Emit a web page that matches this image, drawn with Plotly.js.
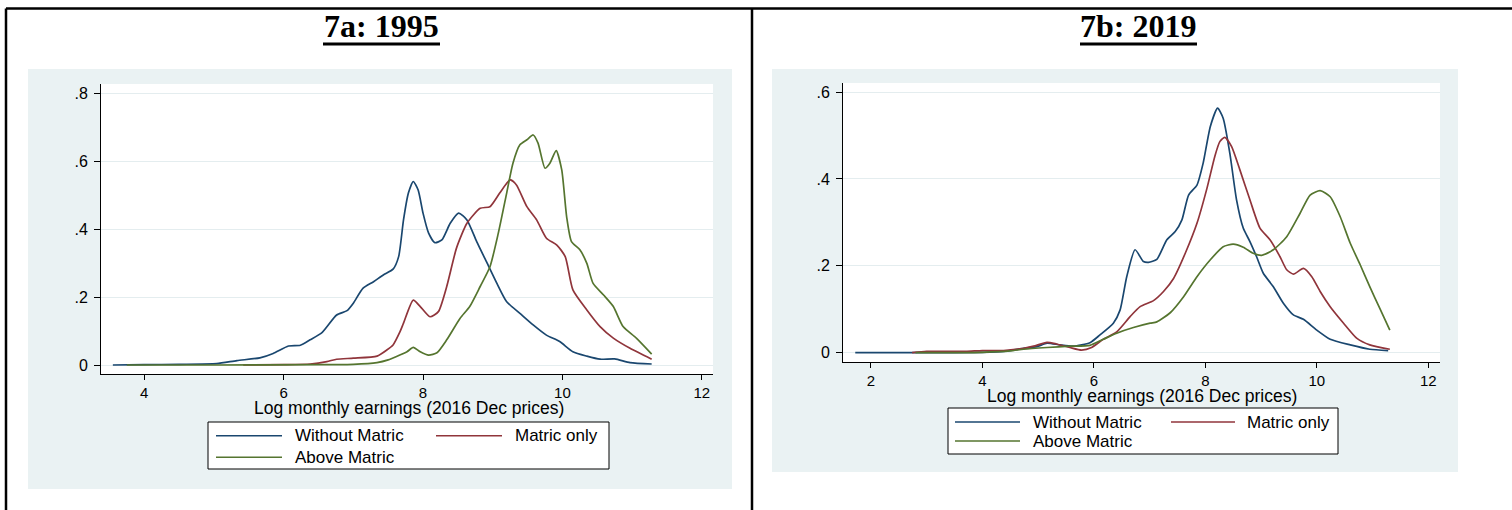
<!DOCTYPE html>
<html>
<head>
<meta charset="utf-8">
<script src="https://cdn.plot.ly/plotly-3.0.1.min.js"></script>
<style>
html,body{margin:0;padding:0;background:#ffffff;}
#chart{width:1512px;height:510px;}
</style>
</head>
<body>
<div id="chart"></div>
<script>
// ---------------- DATA ----------------
const seriesNames = ["Without Matric", "Matric only", "Above Matric"];
const panelTitles = ["7a: 1995", "7b: 2019"];
const xAxisTitle = "Log monthly earnings (2016 Dec prices)";

const xTicks1995 = [4, 6, 8, 10, 12];
const xTickText1995 = ["4", "6", "8", "10", "12"];
const yTicks1995 = [0, 0.2, 0.4, 0.6, 0.8];
const yTickText1995 = ["0", ".2", ".4", ".6", ".8"];

const xTicks2019 = [2, 4, 6, 8, 10, 12];
const xTickText2019 = ["2", "4", "6", "8", "10", "12"];
const yTicks2019 = [0, 0.2, 0.4, 0.6];
const yTickText2019 = ["0", ".2", ".4", ".6"];

// 1995 densities
const x1995Without = [3.55, 4.0, 4.5, 5.04, 5.33, 5.66, 5.85, 6.07, 6.24, 6.38, 6.55, 6.76, 6.91, 7.00, 7.14, 7.29, 7.43, 7.57, 7.65, 7.72, 7.79, 7.86, 7.93, 8.00, 8.08, 8.17, 8.27, 8.39, 8.51, 8.63, 8.77, 8.91, 9.06, 9.20, 9.39, 9.58, 9.77, 9.96, 10.15, 10.35, 10.54, 10.75, 10.97, 11.28];
const y1995Without = [0, 0.001, 0.002, 0.004, 0.013, 0.021, 0.034, 0.056, 0.058, 0.074, 0.095, 0.147, 0.160, 0.182, 0.226, 0.245, 0.265, 0.282, 0.319, 0.427, 0.506, 0.540, 0.515, 0.447, 0.388, 0.360, 0.368, 0.417, 0.447, 0.427, 0.363, 0.304, 0.240, 0.186, 0.152, 0.118, 0.088, 0.069, 0.039, 0.026, 0.017, 0.018, 0.007, 0.003];

const x1995Matric = [5.42, 6.0, 6.38, 6.62, 6.76, 7.00, 7.34, 7.48, 7.57, 7.67, 7.72, 7.86, 7.96, 8.10, 8.22, 8.34, 8.48, 8.63, 8.82, 8.96, 9.10, 9.25, 9.34, 9.49, 9.63, 9.77, 9.92, 10.04, 10.15, 10.35, 10.54, 10.73, 10.97, 11.28];
const y1995Matric = [0, 0.001, 0.003, 0.010, 0.017, 0.020, 0.026, 0.044, 0.059, 0.098, 0.123, 0.191, 0.172, 0.142, 0.157, 0.231, 0.344, 0.417, 0.461, 0.466, 0.506, 0.545, 0.530, 0.466, 0.427, 0.373, 0.353, 0.319, 0.221, 0.162, 0.113, 0.079, 0.049, 0.017];

const x1995Above = [3.75, 5.0, 6.5, 7.0, 7.34, 7.50, 7.62, 7.77, 7.86, 7.96, 8.08, 8.20, 8.34, 8.53, 8.67, 8.82, 8.96, 9.08, 9.20, 9.29, 9.39, 9.49, 9.58, 9.65, 9.75, 9.82, 9.91, 9.99, 10.06, 10.13, 10.25, 10.35, 10.44, 10.59, 10.73, 10.87, 11.06, 11.28];
const y1995Above = [0, 0, 0.001, 0.002, 0.007, 0.015, 0.025, 0.039, 0.052, 0.039, 0.029, 0.036, 0.074, 0.137, 0.172, 0.231, 0.289, 0.388, 0.506, 0.594, 0.648, 0.663, 0.677, 0.653, 0.579, 0.594, 0.631, 0.574, 0.437, 0.363, 0.339, 0.299, 0.240, 0.206, 0.172, 0.113, 0.079, 0.032];

// 2019 densities
const x2019Without = [1.72, 3.0, 4.0, 4.38, 4.74, 4.98, 5.16, 5.39, 5.63, 5.93, 6.11, 6.35, 6.47, 6.59, 6.74, 6.89, 6.98, 7.13, 7.31, 7.46, 7.58, 7.70, 7.85, 7.96, 8.09, 8.22, 8.32, 8.44, 8.56, 8.68, 8.80, 8.92, 9.04, 9.22, 9.40, 9.58, 9.76, 10.0, 10.24, 10.60, 10.95, 11.28];
const y2019Without = [0, 0, 0.001, 0.003, 0.010, 0.014, 0.022, 0.018, 0.015, 0.023, 0.041, 0.068, 0.098, 0.175, 0.237, 0.210, 0.208, 0.215, 0.260, 0.279, 0.306, 0.363, 0.386, 0.436, 0.521, 0.563, 0.540, 0.459, 0.352, 0.287, 0.256, 0.221, 0.183, 0.152, 0.114, 0.087, 0.077, 0.052, 0.031, 0.018, 0.008, 0.005];

const x2019Matric = [2.74, 3.0, 3.7, 4.0, 4.38, 4.74, 4.92, 5.16, 5.33, 5.57, 5.78, 5.96, 6.17, 6.41, 6.65, 6.83, 7.07, 7.25, 7.43, 7.64, 7.85, 8.03, 8.17, 8.26, 8.35, 8.47, 8.62, 8.80, 8.98, 9.16, 9.34, 9.46, 9.58, 9.76, 9.91, 10.06, 10.24, 10.48, 10.72, 10.95, 11.31];
const y2019Matric = [0, 0.003, 0.003, 0.005, 0.005, 0.010, 0.015, 0.024, 0.020, 0.012, 0.006, 0.012, 0.031, 0.048, 0.083, 0.106, 0.120, 0.141, 0.171, 0.229, 0.298, 0.379, 0.452, 0.486, 0.496, 0.475, 0.421, 0.352, 0.287, 0.260, 0.221, 0.191, 0.181, 0.194, 0.175, 0.141, 0.106, 0.068, 0.033, 0.018, 0.008];

const x2019Above = [2.8, 4.0, 4.5, 4.74, 5.16, 5.57, 5.93, 6.17, 6.41, 6.71, 7.01, 7.13, 7.37, 7.61, 7.85, 8.09, 8.32, 8.50, 8.68, 8.86, 9.01, 9.22, 9.46, 9.70, 9.88, 10.06, 10.24, 10.42, 10.60, 10.78, 10.95, 11.13, 11.31];
const y2019Above = [0, 0.001, 0.004, 0.008, 0.012, 0.015, 0.017, 0.031, 0.045, 0.058, 0.068, 0.071, 0.092, 0.129, 0.175, 0.214, 0.244, 0.250, 0.243, 0.229, 0.224, 0.237, 0.267, 0.321, 0.363, 0.373, 0.359, 0.313, 0.252, 0.202, 0.152, 0.102, 0.052];

// ---------------- STYLE ----------------
const W = 1512, H = 510;
const colors = ["#1a476f", "#90353b", "#55752f"];
const sans = "Liberation Sans, Arial, Helvetica, sans-serif";
const serif = "Liberation Serif, Times New Roman, serif";
const graphBg = "#eaf2f3";
const gridCol = "#e4edef";
const fx = v => v / W;
const fy = v => 1 - v / H;

function line(x, y, name, color, xa, ya) {
  return {
    type: "scatter", mode: "lines", x: x, y: y, name: name,
    xaxis: xa, yaxis: ya, showlegend: false,
    line: {color: color, width: 1.7, shape: "spline", smoothing: 0.6},
    hoverinfo: "x+y+name"
  };
}

const traces = [
  line(x1995Without, y1995Without, seriesNames[0], colors[0], "x", "y"),
  line(x1995Matric, y1995Matric, seriesNames[1], colors[1], "x", "y"),
  line(x1995Above, y1995Above, seriesNames[2], colors[2], "x", "y"),
  line(x2019Without, y2019Without, seriesNames[0], colors[0], "x2", "y2"),
  line(x2019Matric, y2019Matric, seriesNames[1], colors[1], "x2", "y2"),
  line(x2019Above, y2019Above, seriesNames[2], colors[2], "x2", "y2")
];

function xAxis(domain, range, vals, text, anchor) {
  return {
    domain: domain, range: range, anchor: anchor,
    tickmode: "array", tickvals: vals, ticktext: text,
    showline: true, linecolor: "#000", linewidth: 1,
    ticks: "outside", ticklen: 5, tickcolor: "#000", tickwidth: 1,
    showgrid: false, zeroline: false,
    tickfont: {family: sans, size: 15, color: "#000"}
  };
}
function yAxis(domain, range, vals, text, anchor) {
  return {
    domain: domain, range: range, anchor: anchor,
    tickmode: "array", tickvals: vals, ticktext: text,
    showline: true, linecolor: "#000", linewidth: 1,
    ticks: "outside", ticklen: 6, tickcolor: "#000", tickwidth: 1,
    ticklabelstandoff: 3,
    showgrid: true, gridcolor: gridCol, gridwidth: 1, zeroline: false,
    tickfont: {family: sans, size: 16, color: "#000"}
  };
}

const shapes = [];
const annotations = [];
function rect(x0, y0, x1, y1, fill, lineColor, lw) {
  shapes.push({type: "rect", xref: "paper", yref: "paper", layer: "below",
    x0: fx(x0), x1: fx(x1), y0: fy(y1), y1: fy(y0),
    fillcolor: fill, line: {color: lineColor || "rgba(0,0,0,0)", width: lw || 0}});
}
function seg(x0, y0, x1, y1, color, w, layer) {
  shapes.push({type: "line", xref: "paper", yref: "paper", layer: layer || "above",
    x0: fx(x0), x1: fx(x1), y0: fy(y0), y1: fy(y1), line: {color: color, width: w}});
}
function text(t, x, y, opts) {
  annotations.push(Object.assign({text: t, x: fx(x), y: fy(y), xref: "paper", yref: "paper",
    showarrow: false, xanchor: "left", yanchor: "middle",
    font: {family: sans, size: 17, color: "#000"}}, opts || {}));
}

// table borders
seg(6, 8.5, 1512, 8.5, "#000", 2.5);
seg(6, 8.5, 6, 510, "#000", 2.5);
seg(752, 8.5, 752, 510, "#000", 2.5);

// graph regions
rect(28, 69, 732, 489, graphBg);
rect(772, 69, 1458, 472, graphBg);
// plot regions
rect(101, 84, 713, 374, "#ffffff");
rect(843, 83, 1440, 362, "#ffffff");

// panel titles
text("<b>" + panelTitles[0] + "</b>", 381, 26, {xanchor: "center", font: {family: serif, size: 32, color: "#000"}});
text("<b>" + panelTitles[1] + "</b>", 1138, 26, {xanchor: "center", font: {family: serif, size: 32, color: "#000"}});
seg(323, 44, 440, 44, "#000", 3);
seg(1080, 44, 1197, 44, "#000", 3);

// x-axis titles
text(xAxisTitle, 409, 407.5, {xanchor: "center", font: {family: sans, size: 17.5, color: "#000"}});
text(xAxisTitle, 1142, 396, {xanchor: "center", font: {family: sans, size: 17.5, color: "#000"}});

// legends (drawn as a box with samples)
function legend(box, rows, cols) {
  rect(box[0], box[1], box[2], box[3], "#ffffff", "#000", 1);
  seriesNames.forEach((nm, i) => {
    const r = rows[Math.floor(i / 2)], c = cols[i % 2];
    seg(c[0], r, c[1], r, colors[i], 1.6, "above");
    text(nm, c[2], r);
  });
}
legend([208, 422, 609, 469], [435.7, 457.3], [[216, 282, 293], [436, 502, 513]]);
legend([948, 408, 1338, 454], [422, 441], [[955, 1020, 1031], [1171, 1235, 1245]]);

const layout = {
  width: W, height: H,
  margin: {l: 0, r: 0, t: 0, b: 0},
  paper_bgcolor: "#ffffff",
  plot_bgcolor: "rgba(0,0,0,0)",
  showlegend: false,
  xaxis: xAxis([fx(101), fx(713)], [3.38, 12.16], xTicks1995, xTickText1995, "y"),
  yaxis: yAxis([fy(374), fy(84)], [-0.0265, 0.827], yTicks1995, yTickText1995, "x"),
  xaxis2: xAxis([fx(843), fx(1440)], [1.50, 12.21], xTicks2019, xTickText2019, "y2"),
  yaxis2: yAxis([fy(361.7), fy(83)], [-0.0207, 0.621], yTicks2019, yTickText2019, "x2"),
  shapes: shapes,
  annotations: annotations
};

Plotly.newPlot("chart", traces, layout, {displayModeBar: false, staticPlot: true});
</script>
</body>
</html>
